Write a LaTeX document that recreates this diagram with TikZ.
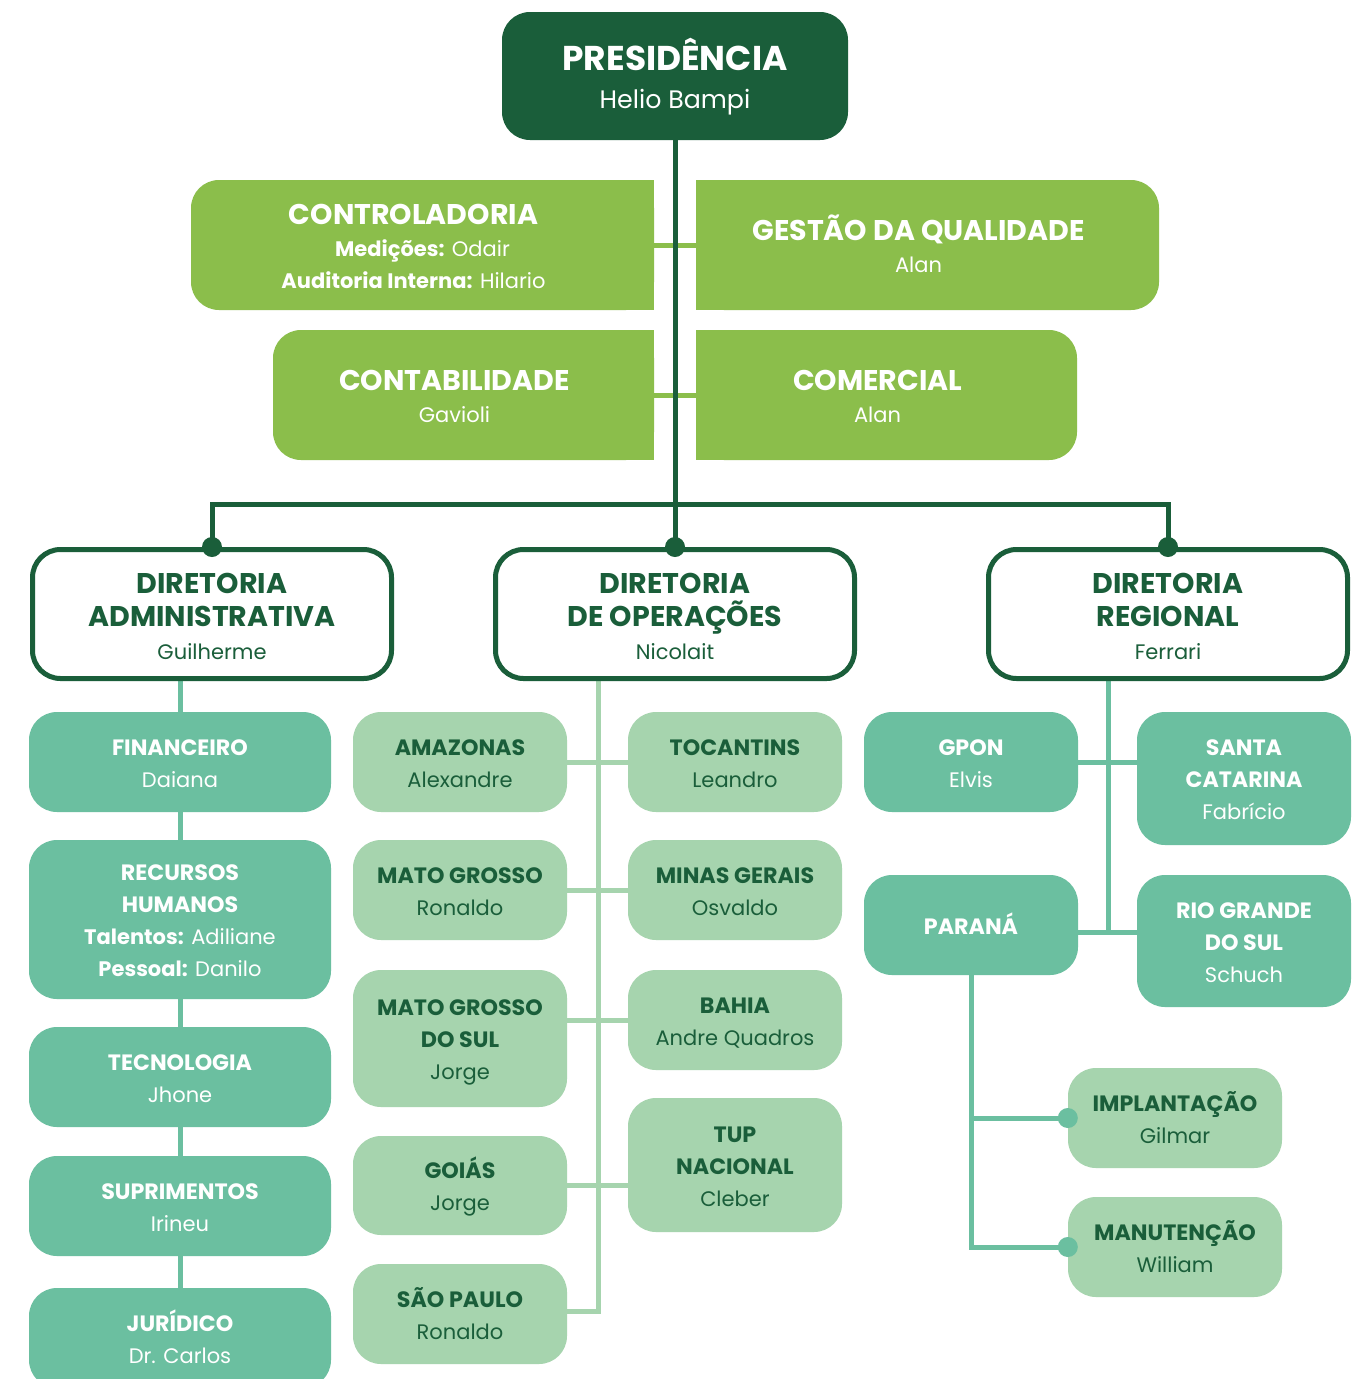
\documentclass[tikz,border=0pt]{standalone}
\usepackage{fontspec}
\setmainfont{Poppins}
\usetikzlibrary{backgrounds}
\definecolor{dk}{RGB}{26,94,58}
\definecolor{cg}{RGB}{139,190,75}
\definecolor{tl}{RGB}{107,191,160}
\definecolor{lg}{RGB}{166,212,174}
\newcommand{\topstr}{\rule{0pt}{28pt}}
\newcommand{\botstr}{\rule[-10pt]{0pt}{10pt}}
\newcommand{\botstrd}{\rule[-3pt]{0pt}{3pt}}
\newcommand{\botstrc}{\rule[-5pt]{0pt}{5pt}}
\newcommand{\rsh}{\hspace*{18pt}}
\newcommand{\ttlf}{\fontsize{22.2}{32}\selectfont\bfseries}
\newcommand{\bigttl}{\fontsize{28.5}{32}\selectfont\bfseries}
\newcommand{\dirttl}{\fontsize{28.5}{33}\selectfont\bfseries}
\begin{document}
\begin{tikzpicture}[x=1pt,y=-1pt,
  box/.style={rounded corners=28pt, inner sep=0pt, align=center, font=\fontsize{21}{32}\selectfont},
  tealbox/.style={box, fill=tl, text=white, minimum width=#1},
  lgbox/.style={box, fill=lg, text=dk, minimum width=214},
  cgbox/.style={box, fill=cg, text=white, minimum height=130},
  dirbox/.style={box, draw=dk, line width=5pt, fill=white, text=dk, minimum width=359, minimum height=129, font=\fontsize{21}{33}\selectfont},
  dline/.style={draw=dk, line width=5pt},
  tline/.style={draw=tl, line width=5pt},
  lline/.style={draw=lg, line width=5pt},
  cline/.style={draw=cg, line width=5pt}]
\useasboundingbox (0,0) rectangle (1366,1379);

% Presidencia
\node[box, fill=dk, text=white, minimum width=346, minimum height=128, font=\fontsize{25.3}{38}\selectfont] (pres) at (675,76)
  {\rule{0pt}{34pt}{\fontsize{34.4}{38}\selectfont\bfseries PRESIDÊNCIA}\\ Helio Bampi\rule[-8pt]{0pt}{8pt}};

% staff boxes
\node[cgbox, minimum width=463] (contr) at (422.5,245)
  {\topstr{\bigttl CONTROLADORIA}\rsh\\ \textbf{Medições:} Odair\rsh\\ \textbf{Auditoria Interna:} Hilario\rsh\botstrc};
\node[cgbox, minimum width=463] (gest) at (927.5,245)
  {\topstr{\bigttl GESTÃO DA QUALIDADE}\rsh\\ Alan\rsh\botstrc};
\node[cgbox, minimum width=381] (contab) at (463.5,395)
  {\topstr{\bigttl CONTABILIDADE}\rsh\\ Gavioli\rsh\botstrc};
\node[cgbox, minimum width=381] (com) at (886.5,395)
  {\topstr{\bigttl COMERCIAL}\rsh\\ Alan\rsh\botstrc};

% diretorias
\node[dirbox] (adm) at (212,614) {\topstr{\dirttl DIRETORIA}\\ {\dirttl ADMINISTRATIVA}\\ Guilherme\botstrd};
\node[dirbox] (ops) at (675,614) {\topstr{\dirttl DIRETORIA}\\ {\dirttl DE OPERAÇÕES}\\ Nicolait\botstrd};
\node[dirbox] (reg) at (1168,614) {\topstr{\dirttl DIRETORIA}\\ {\dirttl REGIONAL}\\ Ferrari\botstrd};

% administrativa
\node[tealbox=302, minimum height=100] (fin) at (180,762) {\topstr{\ttlf FINANCEIRO}\\ Daiana\botstr};
\node[tealbox=302, minimum height=159] (rh) at (180,919.5) {\topstr{\ttlf RECURSOS}\\ {\ttlf HUMANOS}\\ \textbf{Talentos:} Adiliane\\ \textbf{Pessoal:} Danilo\botstr};
\node[tealbox=302, minimum height=100] (tec) at (180,1077) {\topstr{\ttlf TECNOLOGIA}\\ Jhone\botstr};
\node[tealbox=302, minimum height=100] (sup) at (180,1206) {\topstr{\ttlf SUPRIMENTOS}\\ Irineu\botstr};
\node[tealbox=302, minimum height=100] (jur) at (180,1338) {\topstr{\ttlf JURÍDICO}\\ Dr. Carlos\botstr};

% operacoes
\node[lgbox, minimum height=100] (ama) at (460,762) {\topstr{\ttlf AMAZONAS}\\ Alexandre\botstr};
\node[lgbox, minimum height=100] (mg) at (460,890) {\topstr{\ttlf MATO GROSSO}\\ Ronaldo\botstr};
\node[lgbox, minimum height=137] (ms) at (460,1038.5) {\topstr{\ttlf MATO GROSSO}\\ {\ttlf DO SUL}\\ Jorge\botstr};
\node[lgbox, minimum height=99] (go) at (460,1185.5) {\topstr{\ttlf GOIÁS}\\ Jorge\botstr};
\node[lgbox, minimum height=100] (sp) at (460,1314) {\topstr{\ttlf SÃO PAULO}\\ Ronaldo\botstr};
\node[lgbox, minimum height=100] (to) at (735,762) {\topstr{\ttlf TOCANTINS}\\ Leandro\botstr};
\node[lgbox, minimum height=100] (mi) at (735,890) {\topstr{\ttlf MINAS GERAIS}\\ Osvaldo\botstr};
\node[lgbox, minimum height=100] (ba) at (735,1020) {\topstr{\ttlf BAHIA}\\ Andre Quadros\botstr};
\node[lgbox, minimum height=134] (tup) at (735,1165) {\topstr{\ttlf TUP}\\ {\ttlf NACIONAL}\\ Cleber\botstr};

% regional
\node[tealbox=214, minimum height=100] (gpon) at (971,762) {\topstr{\ttlf GPON}\\ Elvis\botstr};
\node[tealbox=214, minimum height=133] (sc) at (1244,778.5) {\topstr{\ttlf SANTA}\\ {\ttlf CATARINA}\\ Fabrício\botstr};
\node[tealbox=214, minimum height=100] (pr) at (971,925) {\topstr{\ttlf PARANÁ}\botstr};
\node[tealbox=214, minimum height=132] (rs) at (1244,941) {\topstr{\ttlf RIO GRANDE}\\ {\ttlf DO SUL}\\ Schuch\botstr};
\node[lgbox, minimum height=100] (imp) at (1175,1118) {\topstr{\ttlf IMPLANTAÇÃO}\\ Gilmar\botstr};
\node[lgbox, minimum height=100] (man) at (1175,1247) {\topstr{\ttlf MANUTENÇÃO}\\ William\botstr};

\coordinate (bus) at (675,504);
\coordinate (opx) at (598,1311);
\coordinate (rgx) at (1108,932);

\begin{scope}[on background layer]
  \fill[white] (0,0) rectangle (1366,1379);
  % square inner corners
  \fill[cg] (contr.north) rectangle (contr.south east);
  \fill[cg] (contab.north) rectangle (contab.south east);
  \fill[cg] (gest.north west) rectangle (gest.south);
  \fill[cg] (com.north west) rectangle (com.south);
  % staff connectors
  \draw[cline] (contr.east) -- (gest.west);
  \draw[cline] (contab.east) -- (com.west);
  % trunk and bus
  \draw[dline] (pres.south) -- (ops.north);
  \draw[dline] (adm.north) |- (bus) -| (reg.north);
  % administrativa
  \draw[tline] (fin.north |- adm.south) -- (fin.north);
  \draw[tline] (fin.south) -- (rh.north);
  \draw[tline] (rh.south) -- (tec.north);
  \draw[tline] (tec.south) -- (sup.north);
  \draw[tline] (sup.south) -- (jur.north);
  % operacoes
  \draw[lline] (ops.south -| opx) -- (opx) -- (opx -| sp.east);
  \draw[lline] (ama.east) -- (to.west);
  \draw[lline] (mg.east) -- (mi.west);
  \draw[lline] (ba.west) -- (ba.west -| ms.east);
  \draw[lline] (go.east) -- (go.east -| tup.west);
  % regional
  \draw[tline] (reg.south -| rgx) -- (rgx);
  \draw[tline] (gpon.east) -- (gpon.east -| sc.west);
  \draw[tline] (rgx -| pr.east) -- (rgx -| rs.west);
  \draw[tline] (pr.south) |- (man.west);
  \draw[tline] (pr.south |- imp.west) -- (imp.west);
\end{scope}

% dots
\fill[dk] (adm.north) circle[radius=10];
\fill[dk] (ops.north) circle[radius=10];
\fill[dk] (reg.north) circle[radius=10];
\fill[tl] (imp.west) circle[radius=10];
\fill[tl] (man.west) circle[radius=10];
\end{tikzpicture}
\end{document}
